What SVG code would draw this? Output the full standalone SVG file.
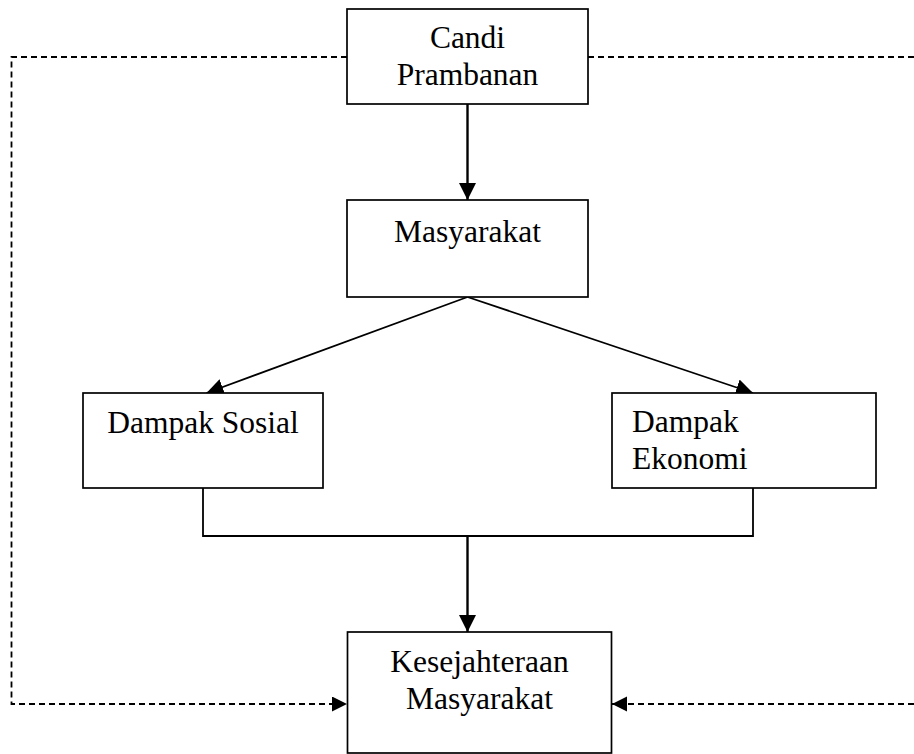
<svg xmlns="http://www.w3.org/2000/svg" width="914" height="754" viewBox="0 0 914 754">
<style>
.box{fill:#fff;stroke:#000;stroke-width:1.7}
.t{font-family:"Liberation Serif","Times New Roman",serif;font-size:31.5px;fill:#000}
.ln{fill:none;stroke:#000;stroke-width:1.8}
.vl{stroke-width:2.4}
.dash{fill:none;stroke:#000;stroke-width:1.8;stroke-dasharray:6 4}
</style>
<defs>
<marker id="ah" markerUnits="userSpaceOnUse" markerWidth="19" markerHeight="18" refX="17" refY="8.5" orient="auto">
<path d="M0,0 L17,8.5 L0,17 z" fill="#000"/>
</marker>
<marker id="ahs" markerUnits="userSpaceOnUse" markerWidth="17" markerHeight="16" refX="15" refY="7.5" orient="auto">
<path d="M0,0 L15,7.5 L0,15 z" fill="#000"/>
</marker>
</defs>
<g id="connectors">
<line class="ln vl" x1="467.5" y1="104" x2="467.5" y2="200" marker-end="url(#ah)"/>
<line class="ln" x1="467.5" y1="297" x2="206.5" y2="393" marker-end="url(#ah)"/>
<line class="ln" x1="467.5" y1="297" x2="753" y2="393" marker-end="url(#ah)"/>
<polyline class="ln" points="203,488 203,536 753,536 753,488"/>
<line class="ln vl" x1="467.5" y1="536" x2="467.5" y2="632" marker-end="url(#ah)"/>
<polyline class="dash" points="347,57 11.5,57 11.5,704 347,704" marker-end="url(#ahs)"/>
<line class="dash" x1="588" y1="57" x2="914" y2="57"/>
<line class="dash" x1="914" y1="704" x2="612" y2="704" marker-end="url(#ahs)"/>
</g>
<g id="candi">
<rect class="box" x="347" y="9" width="241" height="95"/>
<text class="t" x="467.5" y="48" text-anchor="middle">Candi</text>
<text class="t" x="467.5" y="85" text-anchor="middle">Prambanan</text>
</g>
<g id="masyarakat">
<rect class="box" x="347" y="200" width="241" height="97"/>
<text class="t" x="467.5" y="242" text-anchor="middle">Masyarakat</text>
</g>
<g id="sosial">
<rect class="box" x="83" y="393" width="240" height="95"/>
<text class="t" x="203" y="433" text-anchor="middle">Dampak Sosial</text>
</g>
<g id="ekonomi">
<rect class="box" x="612" y="393" width="264" height="95"/>
<text class="t" x="632" y="432">Dampak</text>
<text class="t" x="632" y="469">Ekonomi</text>
</g>
<g id="kesejahteraan">
<rect class="box" x="347.5" y="632" width="264" height="121"/>
<text class="t" x="479.5" y="672" text-anchor="middle">Kesejahteraan</text>
<text class="t" x="479.5" y="709" text-anchor="middle">Masyarakat</text>
</g>
</svg>
